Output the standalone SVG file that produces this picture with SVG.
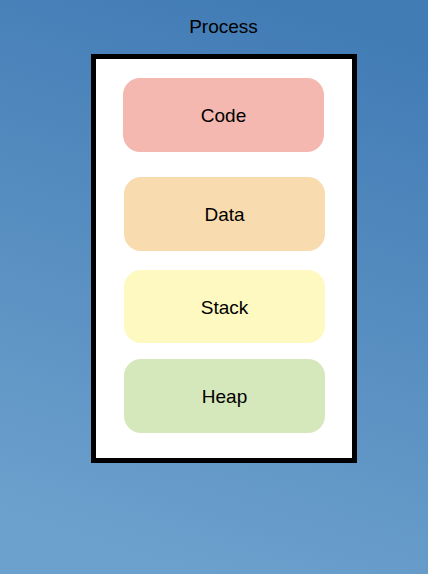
<svg xmlns="http://www.w3.org/2000/svg" width="428" height="574" viewBox="0 0 428 574">
  <defs>
    <linearGradient id="bg" x1="0.62" y1="0" x2="0.38" y2="1">
      <stop offset="0" stop-color="#427cb5"/>
      <stop offset="1" stop-color="#6da1cd"/>
    </linearGradient>
  </defs>
  <style>
    text { font-family: "Liberation Sans", Arial, sans-serif; font-size: 19px; fill: #000; text-anchor: middle; }
    .seg { stroke: none; }
  </style>
  <rect x="0" y="0" width="428" height="574" fill="url(#bg)"/>
  <g id="title">
    <text x="223.5" y="33">Process</text>
  </g>
  <g id="process">
    <rect x="93.5" y="56.5" width="261" height="404" fill="#ffffff" stroke="#000000" stroke-width="5"/>
  </g>
  <g id="code">
    <rect class="seg" x="123" y="78" width="201" height="74" rx="17" fill="#f4b8b0"/>
    <text x="223.5" y="122">Code</text>
  </g>
  <g id="data">
    <rect class="seg" x="124" y="177" width="201" height="74" rx="17" fill="#f8dbae"/>
    <text x="224.5" y="221">Data</text>
  </g>
  <g id="stack">
    <rect class="seg" x="124" y="270" width="201" height="73" rx="17" fill="#fdf9c0"/>
    <text x="224.5" y="314">Stack</text>
  </g>
  <g id="heap">
    <rect class="seg" x="124" y="359" width="201" height="74" rx="17" fill="#d4e8bc"/>
    <text x="224.5" y="403">Heap</text>
  </g>
  <g id="connectors"/>
</svg>
